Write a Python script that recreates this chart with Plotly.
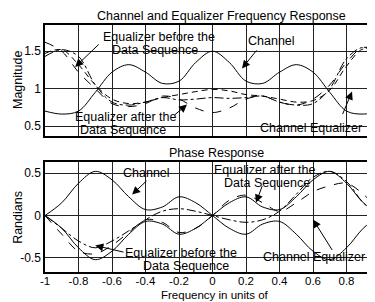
import plotly.graph_objects as go
from plotly.subplots import make_subplots

freq = [-1.0, -0.9, -0.8, -0.7, -0.6, -0.5, -0.4, -0.3, -0.2, -0.1, 0.0,
        0.1, 0.2, 0.3, 0.4, 0.5, 0.6, 0.7, 0.8, 0.9, 1.0]

# Magnitude responses
mag_channel = [0.70, 0.66, 0.70, 0.95, 1.22, 1.32, 1.22, 1.07, 1.10, 1.35, 1.50,
               1.35, 1.10, 1.07, 1.22, 1.32, 1.22, 0.95, 0.70, 0.66, 0.70]
mag_eq_after = [1.62, 1.50, 1.22, 1.00, 0.80, 0.76, 0.80, 0.90, 0.86, 0.74, 0.68,
                0.74, 0.86, 0.90, 0.82, 0.78, 0.86, 1.05, 1.35, 1.55, 1.50]
mag_eq_before = [1.47, 1.52, 1.32, 1.05, 0.86, 0.80, 0.82, 0.88, 0.92, 0.96, 0.99,
                 0.97, 0.92, 0.90, 0.86, 0.82, 0.84, 0.98, 1.30, 1.53, 1.47]
mag_channel_eq = [1.43, 1.52, 1.43, 1.05, 0.82, 0.78, 0.82, 0.88, 0.85, 0.86, 0.88,
                  0.87, 0.88, 0.90, 0.82, 0.78, 0.80, 1.00, 1.40, 1.55, 1.43]

# Phase responses
ph_channel = [0.00, 0.15, 0.38, 0.52, 0.42, 0.22, 0.07, 0.10, 0.22, 0.15, 0.00,
              -0.15, -0.22, -0.10, -0.07, -0.22, -0.42, -0.52, -0.38, -0.15, 0.00]
ph_channel_eq = [0.00, -0.15, -0.38, -0.52, -0.42, -0.22, -0.07, -0.10, -0.22, -0.15, 0.00,
                 0.15, 0.22, 0.10, 0.07, 0.22, 0.42, 0.52, 0.38, 0.15, 0.00]
ph_eq_after = [0.00, -0.22, -0.42, -0.45, -0.35, -0.20, -0.05, -0.08, -0.20, -0.15, 0.00,
               0.18, 0.24, 0.15, 0.05, 0.15, 0.28, 0.35, 0.38, 0.25, 0.05]
ph_eq_before = [0.00, -0.15, -0.30, -0.38, -0.30, -0.18, -0.05, 0.05, 0.08, 0.05, 0.00,
                -0.05, -0.08, -0.05, 0.05, 0.25, 0.45, 0.52, 0.40, 0.15, 0.00]

x_ticks = [-1, -0.8, -0.6, -0.4, -0.2, 0, 0.2, 0.4, 0.6, 0.8, 1]
x_tick_labels = ["-1", "-0.8", "-0.6", "-0.4", "-0.2", "0", "0.2", "0.4", "0.6", "0.8", "1"]
mag_ticks = [0.5, 1, 1.5]
mag_tick_labels = ["0.5", "1", "1.5"]
ph_ticks = [-0.5, 0, 0.5]
ph_tick_labels = ["-0.5", "0", "0.5"]

FONT = "Liberation Sans, Arial, sans-serif"
LBL = 12.5
fig = make_subplots(rows=2, cols=1)

line_w = 1
fig.add_trace(go.Scatter(x=freq, y=mag_channel, mode="lines", line=dict(color="black", width=line_w, shape="spline")), 1, 1)
fig.add_trace(go.Scatter(x=freq, y=mag_eq_after, mode="lines", line=dict(color="black", width=line_w, dash="dash", shape="spline")), 1, 1)
fig.add_trace(go.Scatter(x=freq, y=mag_eq_before, mode="lines", line=dict(color="black", width=line_w, dash="6px,4px", shape="spline")), 1, 1)
fig.add_trace(go.Scatter(x=freq, y=mag_channel_eq, mode="lines", line=dict(color="black", width=line_w, dash="dashdot", shape="spline")), 1, 1)

fig.add_trace(go.Scatter(x=freq, y=ph_channel, mode="lines", line=dict(color="black", width=line_w, shape="spline")), 2, 1)
fig.add_trace(go.Scatter(x=freq, y=ph_channel_eq, mode="lines", line=dict(color="black", width=line_w, shape="spline")), 2, 1)
fig.add_trace(go.Scatter(x=freq, y=ph_eq_after, mode="lines", line=dict(color="black", width=line_w, dash="dash", shape="spline")), 2, 1)
fig.add_trace(go.Scatter(x=freq, y=ph_eq_before, mode="lines", line=dict(color="black", width=line_w, dash="dashdot", shape="spline")), 2, 1)

axis_common = dict(showline=True, linecolor="black", linewidth=1.5, showgrid=True,
                   gridcolor="#222222", gridwidth=1, zeroline=False, ticks="",
                   tickfont=dict(family=FONT, size=12, color="black"))

fig.update_xaxes(range=[-1, 0.97], tickvals=x_ticks, ticktext=x_tick_labels, mirror=True, **axis_common)
fig.update_xaxes(showticklabels=False, row=1, col=1)
fig.update_xaxes(tickfont=dict(family=FONT, size=11.5, color="black"), ticklabelstandoff=-3, row=2, col=1)
fig.update_yaxes(mirror=False, **axis_common)
fig.update_yaxes(range=[0.367, 1.85], tickvals=mag_ticks, ticktext=mag_tick_labels, row=1, col=1)
fig.update_yaxes(range=[-0.665, 0.63], tickvals=ph_ticks, ticktext=ph_tick_labels, row=2, col=1)

# The page has an 8px body margin, so the figure is offset by 8px; compensate.
fig.update_layout(
    width=367, height=294,
    margin=dict(l=37, r=0, t=17, b=30),
    paper_bgcolor="white", plot_bgcolor="white",
    showlegend=False,
    font=dict(family=FONT, size=LBL, color="black"),
)
fig.layout.yaxis.domain = [0.5506, 1]
fig.layout.yaxis2.domain = [0, 0.4453]

ann = []
def txt(x, y, t, xref="x", yref="y", size=LBL, yanchor="middle"):
    ann.append(dict(x=x, y=y, xref=xref, yref=yref, text=t, showarrow=False,
                    xanchor="center", yanchor=yanchor, borderpad=0,
                    font=dict(family=FONT, size=size, color="black"), align="center"))

def arrow(xt, yt, xh, yh, xr, yr):
    ann.append(dict(x=xh, y=yh, ax=xt, ay=yt, xref=xr, yref=yr, axref=xr, ayref=yr,
                    text="", showarrow=True, arrowhead=2, arrowsize=1.6, arrowwidth=1,
                    arrowcolor="black", standoff=0, startstandoff=0))

# Titles
txt(0.535, 1.0688, "Channel and Equalizer Frequency Response", "paper", "paper", size=12.5, yanchor="top")
txt(0.52, 0.482, "Phase Response", "paper", "paper")
txt(0.515, -0.095, "Frequency in units of", "paper", "paper", size=11.5)
ann.append(dict(x=-0.082, y=0.777, xref="paper", yref="paper", text="Magnitude", textangle=-90,
                xanchor="center", yanchor="middle",
                showarrow=False, font=dict(family=FONT, size=12.5, color="black")))
ann.append(dict(x=-0.082, y=0.223, xref="paper", yref="paper", text="Randians", textangle=-90,
                xanchor="center", yanchor="middle",
                showarrow=False, font=dict(family=FONT, size=12.5, color="black")))

# Top plot labels
txt(-0.32, 1.687, "Equalizer before the", "x", "y")
txt(-0.343, 1.513, "Data Sequence", "x", "y")
arrow(-0.67, 1.61, -0.82, 1.29, "x", "y")
txt(0.355, 1.64, "Channel", "x", "y")
arrow(0.27, 1.53, 0.176, 1.27, "x", "y")
txt(-0.522, 0.62, "Equalizer after the", "x", "y")
txt(-0.534, 0.447, "Data Sequence", "x", "y")
arrow(-0.236, 0.63, -0.152, 0.787, "x", "y")
txt(0.588, 0.48, "Channel Equalizer", "x", "y")
arrow(0.773, 0.64, 0.833, 0.96, "x", "y")

# Bottom plot labels
txt(-0.397, 0.506, "Channel", "x2", "y2")
arrow(-0.385, 0.424, -0.48, 0.247, "x2", "y2")
txt(0.313, 0.535, "Equalizer after the", "x2", "y2")
txt(0.325, 0.382, "Data Sequence", "x2", "y2")
arrow(0.30, 0.365, 0.26, 0.153, "x2", "y2")
txt(-0.188, -0.447, "Equalizer before the", "x2", "y2")
txt(-0.158, -0.60, "Data Sequence", "x2", "y2")
arrow(-0.522, -0.435, -0.70, -0.353, "x2", "y2")
txt(0.606, -0.49, "Channel Equalizer", "x2", "y2")
arrow(0.72, -0.424, 0.6, -0.047, "x2", "y2")

fig.update_layout(annotations=ann)
fig.write_html("out.html")
